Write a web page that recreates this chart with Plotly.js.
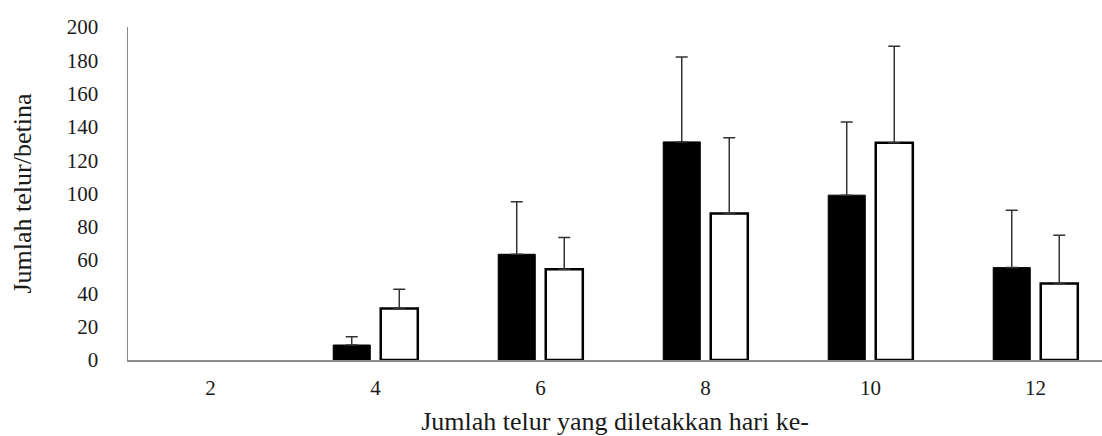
<!DOCTYPE html>
<html>
<head>
<meta charset="utf-8">
<script src="https://cdn.plot.ly/plotly-3.0.1.min.js"></script>
<style>html,body{margin:0;padding:0;background:#fff;}#chart{width:1102px;height:436px;}</style>
</head>
<body>
<div id="chart"></div>
<script>
const days = ['2', '4', '6', '8', '10', '12'];
const seriesA = [0, 9, 63.5, 131, 99, 55.5];
const errorA = [null, 5, 31.5, 51, 44, 34.5];
const seriesB = [0, 31, 54.5, 88, 130.5, 46];
const errorB = [null, 11.5, 19, 45.5, 58, 29];
const yTicks = [0, 20, 40, 60, 80, 100, 120, 140, 160, 180, 200];

const font = 'Liberation Serif, Times New Roman, serif';
const errPlus = arr => arr.map(v => (v === null ? NaN : v));
const errMinus = arr => arr.map(v => (v === null ? NaN : 0));

const traces = [
  {
    type: 'bar', x: days, y: seriesA, name: 'A',
    marker: {color: '#000000', line: {color: '#000000', width: seriesA.map(v => v > 0 ? 1 : 0)}},
    error_y: {type: 'data', symmetric: false, array: errPlus(errorA), arrayminus: errMinus(errorA),
              color: '#333333', thickness: 1.5, width: 6}
  },
  {
    type: 'bar', x: days, y: seriesB, name: 'B',
    marker: {color: '#ffffff', line: {color: '#000000', width: seriesB.map(v => v > 0 ? 2.5 : 0)}},
    error_y: {type: 'data', symmetric: false, array: errPlus(errorB), arrayminus: errMinus(errorB),
              color: '#333333', thickness: 1.5, width: 6}
  }
];

const layout = {
  width: 1102, height: 436,
  margin: {l: 128, r: 0, t: 27, b: 76},
  paper_bgcolor: '#ffffff', plot_bgcolor: '#ffffff',
  showlegend: false,
  barmode: 'group', bargap: 0.424, bargroupgap: 0.22,
  font: {family: font, color: '#1a1a1a'},
  xaxis: {
    type: 'category', range: [-0.5, 5.403],
    showline: true, linecolor: '#8c8c8c', linewidth: 1.5,
    showgrid: false, zeroline: false, ticks: '',
    tickfont: {family: font, size: 21, color: '#1a1a1a'},
    ticklabelstandoff: 8,
    title: {text: 'Jumlah telur yang diletakkan hari ke-', font: {family: font, size: 26, color: '#1a1a1a'}, standoff: 22},
    automargin: false, fixedrange: true
  },
  yaxis: {
    range: [0, 200], tickvals: yTicks, ticktext: yTicks.map(String),
    showline: true, linecolor: '#8c8c8c', linewidth: 1.5,
    showgrid: false, zeroline: false, ticks: '',
    tickfont: {family: font, size: 21, color: '#1a1a1a'},
    ticklabelstandoff: 24,
    title: {text: 'Jumlah telur/betina', font: {family: font, size: 26, color: '#1a1a1a'}, standoff: 27},
    automargin: false, fixedrange: true
  }
};

Plotly.newPlot('chart', traces, layout, {staticPlot: true, displayModeBar: false});
</script>
</body>
</html>
